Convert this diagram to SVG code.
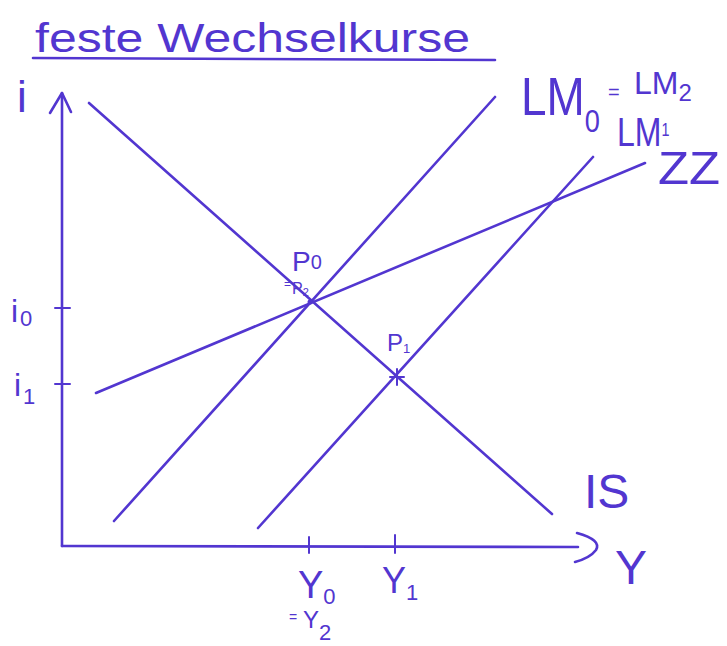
<svg xmlns="http://www.w3.org/2000/svg" width="727" height="646" viewBox="0 0 727 646">
<style>
.ln{stroke:#5236d0;stroke-width:2.6;fill:none;stroke-linecap:round;stroke-linejoin:round}
.tk{stroke:#5236d0;stroke-width:2;fill:none;stroke-linecap:round}
.t{font-family:"Liberation Sans","DejaVu Sans",sans-serif;fill:#5236d0;font-weight:normal}
</style>
<rect width="727" height="646" fill="#ffffff"/>
<g id="title">
<text class="t" x="35" y="52" font-size="40" textLength="435" lengthAdjust="spacingAndGlyphs">feste Wechselkurse</text>
<line class="ln" x1="33" y1="58" x2="495" y2="60"/>
</g>
<g id="axes">
<line class="ln" x1="62" y1="93" x2="62" y2="546"/>
<polyline class="ln" points="50,113 62,93 71,112"/>
<line class="ln" x1="62" y1="546" x2="578" y2="547"/>
<path class="ln" d="M577,533 Q602,540 596,550 Q590,558 575,562"/>
<line class="tk" x1="55" y1="308" x2="70" y2="308"/>
<line class="tk" x1="55" y1="384" x2="70" y2="384"/>
<line class="tk" x1="309" y1="537" x2="309" y2="553"/>
<line class="tk" x1="395" y1="535" x2="395" y2="553"/>
</g>
<g id="connectors">
<line id="IS" class="ln" x1="89" y1="103" x2="552" y2="514"/>
<line id="LM0" class="ln" x1="114" y1="521" x2="495" y2="97"/>
<line id="LM1" class="ln" x1="258" y1="528" x2="593" y2="157"/>
<line id="ZZ" class="ln" x1="96" y1="393" x2="645" y2="163"/>
</g>
<g id="P0"><circle cx="310" cy="302" r="2.5" fill="#5236d0"/></g>
<g id="P1">
<line class="tk" x1="390" y1="377" x2="404" y2="377"/>
<line class="tk" x1="397" y1="369" x2="397" y2="385"/>
</g>
<g id="labels">
<text class="t" x="17" y="112" font-size="44">i</text>
<text class="t" x="11" y="322" font-size="32">i<tspan font-size="22" dx="2" dy="4">0</tspan></text>
<text class="t" x="14" y="396" font-size="32">i<tspan font-size="22" dx="2" dy="8">1</tspan></text>
<text class="t" transform="translate(521,115) scale(0.85,1)" font-size="54">LM<tspan font-size="32" dy="17">0</tspan></text>
<text class="t" x="608" y="99" font-size="20">=</text>
<text class="t" x="634" y="94" font-size="32">LM<tspan font-size="24" dy="7">2</tspan></text>
<text class="t" transform="translate(617,146) scale(0.8,1)" font-size="40">LM<tspan font-size="18" dy="-10">1</tspan></text>
<text class="t" x="658" y="184" font-size="46" textLength="62" lengthAdjust="spacingAndGlyphs">ZZ</text>
<text class="t" x="292" y="271" font-size="28">P<tspan font-size="20" dy="-2">0</tspan></text>
<text class="t" x="284" y="288" font-size="12">=</text>
<text class="t" x="292" y="294" font-size="16">P<tspan font-size="11" dy="2">2</tspan></text>
<text class="t" x="387" y="351" font-size="24">P<tspan font-size="13" dy="2">1</tspan></text>
<text class="t" x="584" y="508" font-size="48">IS</text>
<text class="t" x="615" y="584" font-size="48">Y</text>
<text class="t" x="298" y="598" font-size="38">Y<tspan font-size="22" dy="6">0</tspan></text>
<text class="t" x="289" y="622" font-size="14">=</text>
<text class="t" x="303" y="628" font-size="24">Y<tspan font-size="22" dy="12">2</tspan></text>
<text class="t" x="382" y="593" font-size="36">Y<tspan font-size="22" dy="7">1</tspan></text>
</g>
</svg>
